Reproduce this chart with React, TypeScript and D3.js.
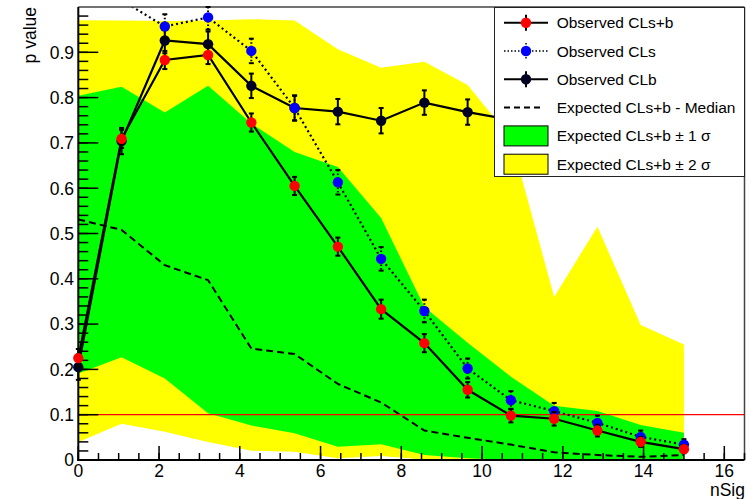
import React, { useEffect } from "react";
import * as d3 from "d3";

const N = 15;
const xValues: number[] = d3.range(N).map((i) => (i * 15) / 14);

const obsClsb = [0.225, 0.709, 0.883, 0.894, 0.745, 0.605, 0.471, 0.333, 0.258, 0.155, 0.098, 0.091, 0.065, 0.040, 0.024];
const obsClsbErr = [0.02, 0.02, 0.02, 0.02, 0.02, 0.02, 0.02, 0.021, 0.02, 0.017, 0.015, 0.015, 0.013, 0.011, 0.009];
const obsCls = [1.10, 1.015, 0.957, 0.977, 0.903, 0.777, 0.613, 0.444, 0.329, 0.202, 0.132, 0.108, 0.082, 0.051, 0.034];
const obsClsErr = [0.03, 0.03, 0.027, 0.027, 0.027, 0.027, 0.027, 0.026, 0.025, 0.022, 0.02, 0.018, 0.016, 0.014, 0.012];
const obsClb = [0.205, 0.704, 0.926, 0.918, 0.826, 0.777, 0.769, 0.749, 0.789, 0.768, 0.751, 0.84, 0.79, 0.78, 0.70];
const obsClbErr = [0.028, 0.029, 0.028, 0.028, 0.027, 0.028, 0.028, 0.028, 0.027, 0.028, 0.028, 0.028, 0.028, 0.028, 0.028];

const expMedian = [0.531, 0.508, 0.430, 0.397, 0.246, 0.234, 0.168, 0.127, 0.065, 0.049, 0.034, 0.017, 0.011, 0.007, 0.011];
const exp1Up = [0.804, 0.824, 0.767, 0.826, 0.743, 0.68, 0.647, 0.534, 0.338, 0.259, 0.184, 0.12, 0.108, 0.077, 0.060];
const exp1Down = [0.191, 0.227, 0.180, 0.103, 0.076, 0.059, 0.029, 0.035, 0.011, 0.004, 0, 0, 0, 0, 0];
const exp2Up = [0.971, 0.970, 0.969, 0.970, 0.973, 0.970, 0.907, 0.866, 0.879, 0.828, 0.71, 0.36, 0.515, 0.298, 0.255];
const exp2Down = [0.040, 0.080, 0.0625, 0.040, 0.0205, 0.018, 0.004, 0.009, 0.001, 0, 0, 0, 0, 0, 0];

const yMajorTicks = d3.range(0, 10).map((i) => i / 10);
const yMinorTicks = d3.range(0, 50).map((i) => i / 50);
const xMajorTicks = d3.range(0, 9).map((i) => i * 2);
const xMinorTicks = d3.range(0, 34).map((i) => i / 2);

const legendEntries = [
  "Observed CLs+b",
  "Observed CLs",
  "Observed CLb",
  "Expected CLs+b - Median",
  "Expected CLs+b \u00b1 1 \u03c3",
  "Expected CLs+b \u00b1 2 \u03c3",
];

const W = 748;
const H = 499;
const X0 = 78.3;
const X1 = 744.5;
const Y0 = 460;
const Y1 = 7;

const FONT = "'Liberation Sans', Arial, Helvetica, sans-serif";

export default function App() {
  useEffect(() => {
    document.body.style.margin = "0";
  }, []);

  const x = d3.scaleLinear().domain([0, 16.5]).range([X0, X1]);
  const y = d3.scaleLinear().domain([0, 1]).range([Y0, Y1]);
  const inRange = (v: number) => v >= 0 && v <= 1;

  const line = (vals: number[]) =>
    d3
      .line<number>()
      .x((_, i) => x(xValues[i]))
      .y((v) => y(v))(vals) || "";

  const band = (lo: number[], hi: number[]) =>
    d3
      .area<number>()
      .x((_, i) => x(xValues[i]))
      .y0((_, i) => y(lo[i]))
      .y1((_, i) => y(hi[i]))(d3.range(N)) || "";

  const errBars = (vals: number[], errs: number[], color: string, dotted: boolean) =>
    vals.map((v, i) => {
      if (!inRange(v)) return null;
      const cx = x(xValues[i]);
      const yt = y(Math.min(1, v + errs[i]));
      const yb = y(v - errs[i]);
      return (
        <g key={i} stroke={color} strokeWidth={2}>
          <line x1={cx} x2={cx} y1={yt} y2={yb} strokeDasharray={dotted ? "1.5,2" : undefined} />
          <line x1={cx - 2.5} x2={cx + 2.5} y1={yt} y2={yt} />
          <line x1={cx - 2.5} x2={cx + 2.5} y1={yb} y2={yb} />
        </g>
      );
    });

  const markers = (vals: number[], color: string) =>
    vals.map((v, i) =>
      inRange(v) ? <circle key={i} cx={x(xValues[i])} cy={y(v)} r={5.2} fill={color} /> : null
    );

  const legX0 = 494.5;
  const legY0 = 7.5;
  const legW = 250;
  const legH = 169;
  const rowY = (k: number) => 22.7 + k * 28.3;
  const symL = 504;
  const symR = 548;
  const symC = 526;

  return (
    <svg width={W} height={H} style={{ position: "absolute", left: 0, top: 0, background: "#fff" }} fontFamily={FONT}>
      <defs>
        <clipPath id="frame">
          <rect x={X0} y={Y1} width={X1 - X0} height={Y0 - Y1} />
        </clipPath>
      </defs>
      <rect x={0} y={0} width={W} height={H} fill="#fff" />
      <g clipPath="url(#frame)">
        <path d={band(exp2Down, exp2Up)} fill="#ffff00" />
        <path d={band(exp1Down, exp1Up)} fill="#00ff00" />
        <path d={line(expMedian)} fill="none" stroke="#000" strokeWidth={2} strokeDasharray="7,4" />
        <line x1={X0} x2={X1} y1={y(0.1)} y2={y(0.1)} stroke="#ff0000" strokeWidth={1.2} />
        <path d={line(obsClb)} fill="none" stroke="#000" strokeWidth={2.2} />
        <path d={line(obsCls)} fill="none" stroke="#000" strokeWidth={2.2} strokeDasharray="2,3" />
        <path d={line(obsClsb)} fill="none" stroke="#000" strokeWidth={2.2} />
      </g>

      {/* frame */}
      <line x1={X0} x2={X1} y1={Y1} y2={Y1} stroke="#444" strokeWidth={1.5} />
      <line x1={X1} x2={X1} y1={Y1} y2={Y0} stroke="#444" strokeWidth={1.5} />
      <line x1={X0} x2={X0} y1={Y1} y2={Y0 + 1} stroke="#000" strokeWidth={2} />
      <line x1={X0 - 1} x2={X1} y1={Y0} y2={Y0} stroke="#000" strokeWidth={2} />

      {/* y ticks */}
      {yMinorTicks.map((t, i) => (
        <line key={"ym" + i} x1={X0} x2={X0 + 10} y1={y(t)} y2={y(t)} stroke="#000" strokeWidth={1.5} />
      ))}
      {yMajorTicks.map((t, i) => (
        <line key={"yM" + i} x1={X0} x2={X0 + 20} y1={y(t)} y2={y(t)} stroke="#000" strokeWidth={1.5} />
      ))}
      {yMajorTicks.map((t, i) => (
        <text key={"yl" + i} x={74} y={y(t)} dy="0.36em" textAnchor="end" fontSize={17.5} fill="#000">
          {d3.format(".1f")(t).replace(/^0\.0$/, "0")}
        </text>
      ))}

      {/* x ticks */}
      {xMinorTicks.map((t, i) => (
        <line key={"xm" + i} x1={x(t)} x2={x(t)} y1={Y0} y2={Y0 - 7} stroke="#000" strokeWidth={1.5} />
      ))}
      {xMajorTicks.map((t, i) => (
        <line key={"xM" + i} x1={x(t)} x2={x(t)} y1={Y0} y2={Y0 - 14} stroke="#000" strokeWidth={1.5} />
      ))}
      {xMajorTicks.map((t, i) => (
        <text key={"xl" + i} x={x(t)} y={477} textAnchor="middle" fontSize={17.5} fill="#000">
          {String(t)}
        </text>
      ))}

      {/* data markers and error bars (not clipped, like ROOT) */}
      {errBars(obsClb, obsClbErr, "#000", false)}
      {markers(obsClb, "#000022")}
      {errBars(obsCls, obsClsErr, "#000", true)}
      {markers(obsCls, "#0000ff")}
      {errBars(obsClsb, obsClsbErr, "#000", false)}
      {markers(obsClsb, "#ff0000")}

      {/* axis titles */}
      <text transform="translate(36,7) rotate(-90)" textAnchor="end" fontSize={17.5} fill="#000">
        p value
      </text>
      <text x={745} y={496} textAnchor="end" fontSize={17.5} fill="#000">
        nSig
      </text>

      {/* legend */}
      <rect x={legX0} y={legY0} width={legW} height={legH} fill="#fff" stroke="#222" strokeWidth={1} />
      {legendEntries.map((label, k) => (
        <text key={"lt" + k} x={556.7} y={rowY(k)} dy="0.36em" fontSize={15.5} fill="#000">
          {label}
        </text>
      ))}
      <g>
        <line x1={symL} x2={symR} y1={rowY(0)} y2={rowY(0)} stroke="#000" strokeWidth={2} />
        <line x1={symC} x2={symC} y1={rowY(0) - 8} y2={rowY(0) + 8} stroke="#000" strokeWidth={2} />
        <circle cx={symC} cy={rowY(0)} r={5.2} fill="#ff0000" />
      </g>
      <g>
        <line x1={symL} x2={symR} y1={rowY(1)} y2={rowY(1)} stroke="#000" strokeWidth={1.5} strokeDasharray="1.5,2" />
        <line x1={symC} x2={symC} y1={rowY(1) - 8} y2={rowY(1) + 8} stroke="#000" strokeWidth={1.5} strokeDasharray="1.5,2" />
        <circle cx={symC} cy={rowY(1)} r={5.2} fill="#0000ff" />
      </g>
      <g>
        <line x1={symL} x2={symR} y1={rowY(2)} y2={rowY(2)} stroke="#000" strokeWidth={2} />
        <line x1={symC} x2={symC} y1={rowY(2) - 8} y2={rowY(2) + 8} stroke="#000" strokeWidth={2} />
        <circle cx={symC} cy={rowY(2)} r={5.2} fill="#000022" />
      </g>
      <line x1={symL} x2={symR - 4} y1={rowY(3)} y2={rowY(3)} stroke="#000" strokeWidth={2} strokeDasharray="6,4" />
      <rect x={symL} y={rowY(4) - 10} width={symR - symL} height={20} fill="#00ff00" stroke="#000" strokeWidth={1} />
      <rect x={symL} y={rowY(5) - 10} width={symR - symL} height={20} fill="#ffff00" stroke="#000" strokeWidth={1} />
    </svg>
  );
}
